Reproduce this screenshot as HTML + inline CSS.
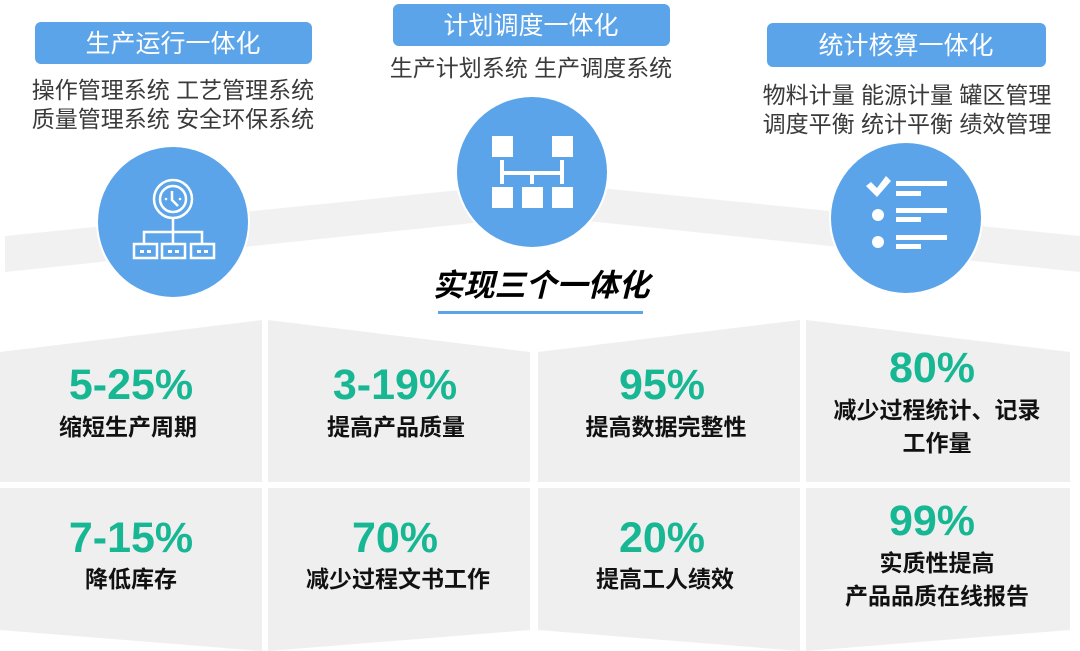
<!DOCTYPE html>
<html><head><meta charset="utf-8"><style>
html,body{margin:0;padding:0;background:#fff;width:1080px;height:651px;overflow:hidden}
svg{display:block}
.t{font-family:"Liberation Sans","Noto Sans CJK SC",sans-serif}
</style></head><body>
<svg width="1080" height="651" viewBox="0 0 1080 651" xmlns="http://www.w3.org/2000/svg">
<polygon points="5,236 540,182 1080,236 1080,272 540,216 5,272" fill="#f1f1f1"/>
<rect x="35" y="22" width="277" height="42" rx="6" fill="#5ba4ea"/>
<text class="t" x="173" y="52" font-size="25" fill="#fff" text-anchor="middle">生产运行一体化</text>
<rect x="393" y="4" width="277" height="42" rx="6" fill="#5ba4ea"/>
<text class="t" x="531" y="34" font-size="25" fill="#fff" text-anchor="middle">计划调度一体化</text>
<rect x="767" y="23" width="279" height="44" rx="6" fill="#5ba4ea"/>
<text class="t" x="906" y="54" font-size="25" fill="#fff" text-anchor="middle">统计核算一体化</text>
<g class="t" font-size="23" fill="#3a3a3a" text-anchor="middle">
<text x="173" y="98">操作管理系统 工艺管理系统</text>
<text x="173" y="127">质量管理系统 安全环保系统</text>
<text x="531" y="76">生产计划系统 生产调度系统</text>
<text x="907" y="103">物料计量 能源计量 罐区管理</text>
<text x="907" y="132">调度平衡 统计平衡 绩效管理</text>
</g>
<circle cx="173" cy="222" r="77" fill="#fff"/><circle cx="173" cy="222" r="75" fill="#5ba4ea"/>
<circle cx="532" cy="172" r="77" fill="#fff"/><circle cx="532" cy="172" r="75" fill="#5ba4ea"/>
<circle cx="906" cy="218" r="77" fill="#fff"/><circle cx="906" cy="218" r="75" fill="#5ba4ea"/>
<g stroke="#fff" stroke-width="2.5" fill="none">
<circle cx="173" cy="199" r="19"/><circle cx="173" cy="199" r="13"/>
<path d="M172 191 V200 L178 206"/>
<path d="M173 218 V232 M144 243 V232 H202 V243 M173 232 V243"/>
<rect x="134" y="244" width="23" height="14"/><rect x="162" y="244" width="23" height="14"/><rect x="191" y="244" width="23" height="14"/>
</g>
<g fill="#fff"><rect x="140" y="250" width="4" height="3"/><rect x="147" y="250" width="4" height="3"/><rect x="168" y="250" width="4" height="3"/><rect x="175" y="250" width="4" height="3"/><rect x="197" y="250" width="4" height="3"/><rect x="204" y="250" width="4" height="3"/><circle cx="166" cy="199" r="1.3"/><circle cx="180" cy="199" r="1.3"/></g>
<g fill="#fff">
<rect x="492" y="136" width="21" height="21"/><rect x="552" y="136" width="21" height="21"/>
<rect x="492" y="187" width="21" height="21"/><rect x="522" y="187" width="21" height="21"/><rect x="552" y="187" width="21" height="21"/>
<rect x="500" y="160" width="4" height="24"/><rect x="560" y="160" width="4" height="24"/>
<rect x="500" y="171" width="64" height="4"/><rect x="530" y="171" width="4" height="13"/>
</g>
<g fill="#fff">
<path d="M866 186 L871 182 L877 188 L886 176 L891 181 L877 197 Z"/>
<circle cx="878" cy="215" r="6"/><circle cx="878" cy="242" r="6"/>
<rect x="896" y="181" width="51" height="5"/><rect x="896" y="191" width="25" height="5"/>
<rect x="896" y="208" width="51" height="5"/><rect x="896" y="217" width="25" height="5"/>
<rect x="896" y="235" width="51" height="5"/><rect x="896" y="244" width="25" height="5"/>
</g>
<text class="t" x="541" y="296" font-size="31" font-weight="bold" font-style="italic" fill="#000" text-anchor="middle">实现三个一体化</text>
<rect x="438" y="311" width="205" height="3" fill="#5ba4ea"/>
<g fill="#efefef">
<polygon points="0,352 262,320 262,482 0,482"/>
<polygon points="268,320 530,352 530,482 268,482"/>
<polygon points="538,352 800,320 800,482 538,482"/>
<polygon points="806,320 1070,352 1070,482 806,482"/>
<polygon points="0,488 262,488 262,651 0,630"/>
<polygon points="268,488 530,488 530,630 268,651"/>
<polygon points="538,488 800,488 800,651 538,630"/>
<polygon points="806,488 1070,488 1070,630 806,651"/>
</g>
<g class="t" font-weight="bold" text-anchor="middle">
<g font-size="43" fill="#17b794">
<text x="131" y="399">5-25%</text>
<text x="395" y="399">3-19%</text>
<text x="662" y="399">95%</text>
<text x="932" y="382">80%</text>
<text x="131" y="552">7-15%</text>
<text x="395" y="552">70%</text>
<text x="662" y="552">20%</text>
<text x="932" y="535">99%</text>
</g>
<g font-size="23" fill="#111">
<text x="128" y="435">缩短生产周期</text>
<text x="396" y="435">提高产品质量</text>
<text x="666" y="435">提高数据完整性</text>
<text x="937" y="418">减少过程统计、记录</text>
<text x="937" y="451">工作量</text>
<text x="131" y="587">降低库存</text>
<text x="398" y="587">减少过程文书工作</text>
<text x="665" y="587">提高工人绩效</text>
<text x="937" y="571">实质性提高</text>
<text x="937" y="604">产品品质在线报告</text>
</g>
</g>
</svg>
</body></html>
